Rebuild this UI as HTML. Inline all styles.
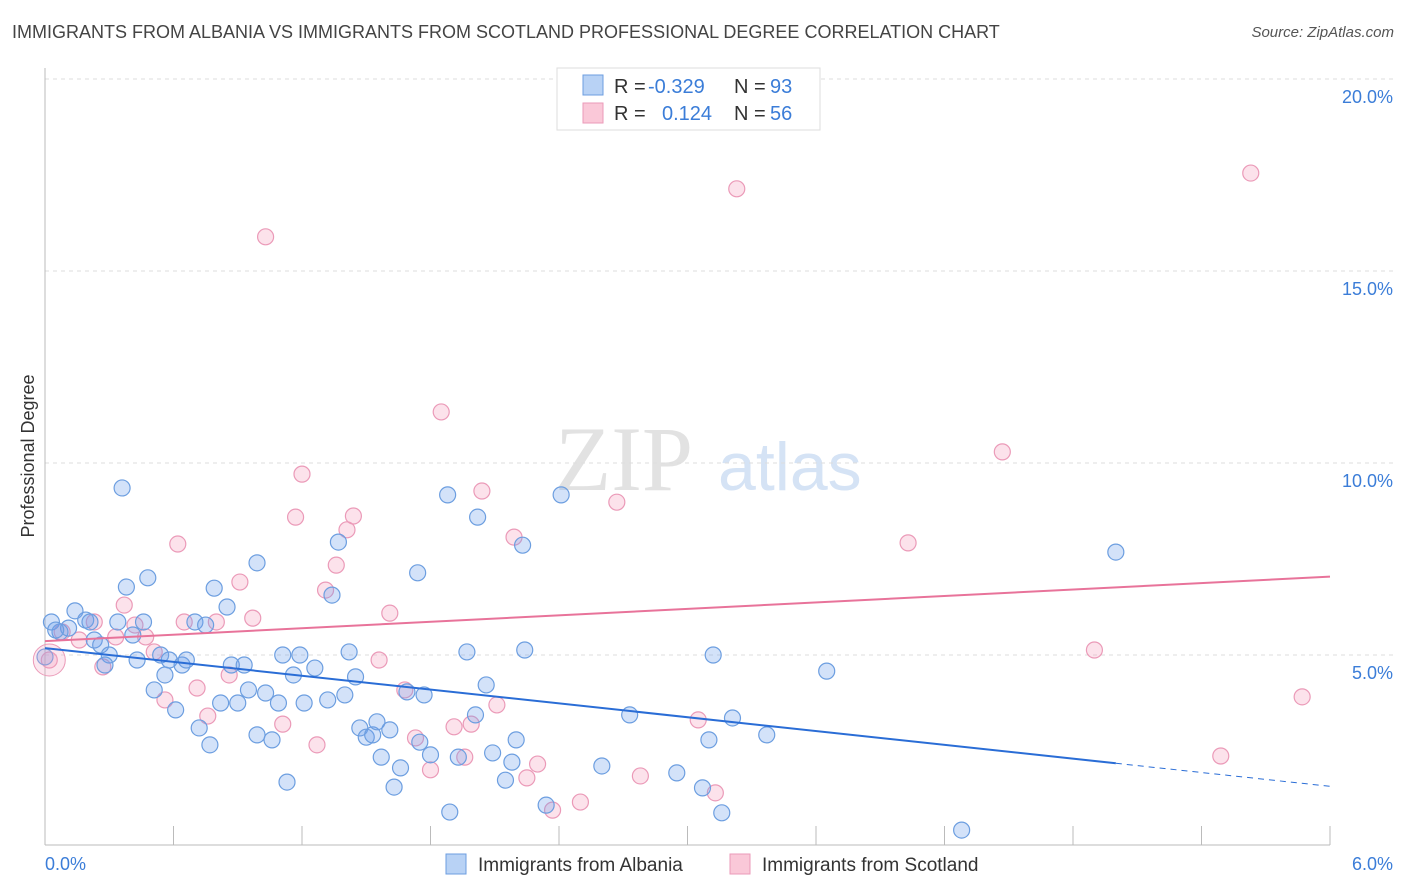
<!DOCTYPE html>
<html><head><meta charset="utf-8">
<style>
body{margin:0;background:#fff;font-family:"Liberation Sans",sans-serif;}
#wrap{position:relative;width:1406px;height:892px;overflow:hidden;}
.t{position:absolute;white-space:nowrap;}
</style></head>
<body>
<div id="wrap">
<div class="t" style="left:12px;top:22px;font-size:18px;color:#444;">IMMIGRANTS FROM ALBANIA VS IMMIGRANTS FROM SCOTLAND PROFESSIONAL DEGREE CORRELATION CHART</div>
<div class="t" style="right:12px;top:24px;font-size:15px;color:#555;font-style:italic;">Source: ZipAtlas.com</div>
<svg id="plot" width="1406" height="892" style="position:absolute;left:0;top:0"></svg>
</div>
<script>
const blueX=[0.03,0.07,0.14,0.11,0.19,0.21,0.23,0.26,0.30,0.28,0.36,0.38,0.34,0.41,0.43,0.46,0.48,0.51,0.54,0.56,0.58,0.61,0.64,0.66,0.70,0.72,0.75,0.77,0.79,0.82,0.85,0.87,0.90,0.93,0.95,0.99,0.99,1.03,1.06,1.09,1.11,1.13,1.16,1.19,1.21,1.26,1.32,1.34,1.37,1.40,1.42,1.45,1.47,1.50,1.53,1.55,1.57,1.61,1.63,1.66,1.69,1.74,1.75,1.77,1.80,1.88,1.89,1.93,1.97,2.01,2.02,2.06,2.09,2.15,2.18,2.20,2.23,2.24,2.34,2.41,2.60,2.73,2.95,3.07,3.10,3.12,3.16,3.21,3.37,3.65,4.28,5.00,0.00,0.05];
const blueY=[5.86,5.60,6.15,5.70,5.91,5.86,5.39,5.26,5.00,4.74,9.35,6.77,5.86,5.52,4.87,5.86,7.01,4.09,5.00,4.48,4.87,3.57,4.74,4.87,5.86,3.10,5.78,2.66,6.74,3.75,6.25,4.74,3.75,4.74,4.09,7.40,2.92,4.01,2.79,3.75,5.00,1.69,4.48,5.00,3.75,4.66,3.83,6.56,7.94,3.96,5.08,4.43,3.10,2.86,2.92,3.26,2.34,3.05,1.56,2.06,4.04,7.14,2.73,3.96,2.40,9.17,0.91,2.34,5.08,3.44,8.59,4.22,2.45,1.74,2.21,2.79,7.86,5.13,1.09,9.17,2.11,3.44,1.93,1.54,2.79,5.00,0.89,3.36,2.92,4.58,0.44,7.68,4.95,5.65];
const pinkX=[0.02,0.08,0.16,0.23,0.27,0.33,0.37,0.42,0.47,0.51,0.56,0.62,0.65,0.71,0.76,0.80,0.86,0.91,0.97,1.03,1.11,1.17,1.20,1.27,1.31,1.36,1.41,1.44,1.56,1.61,1.68,1.73,1.80,1.85,1.91,1.96,1.99,2.04,2.11,2.19,2.25,2.30,2.37,2.50,2.67,2.78,3.05,3.13,3.23,4.03,4.47,4.90,5.49,5.63,5.87];
const pinkY=[4.87,5.60,5.39,5.86,4.69,5.47,6.30,5.78,5.47,5.08,3.83,7.89,5.86,4.14,3.41,5.86,4.48,6.90,5.96,15.89,3.20,8.59,9.71,2.66,6.69,7.34,8.26,8.62,4.87,6.09,4.09,2.84,2.01,11.33,3.13,2.34,3.20,9.27,3.70,8.07,1.80,2.16,0.96,1.17,8.98,1.85,3.31,1.41,17.14,7.92,10.29,5.13,2.37,17.55,3.91];
const blueTrend=[5.18,-0.60]; // intercept, slope
const pinkTrend=[5.36,0.28];
const yTicks=[5,10,15,20];
const xTickCount=10;

const X0=45,X1=1330,Y0=847,PPY=38.4;
const sx=v=>X0+(X1-X0)*v/6;
const sy=v=>Y0-v*PPY;
const svg=document.getElementById('plot');
const NS='http://www.w3.org/2000/svg';
function mk(tag,attrs,parent){const e=document.createElementNS(NS,tag);for(const k in attrs)e.setAttribute(k,attrs[k]);(parent||svg).appendChild(e);return e;}

// watermark
let wm=mk('text',{x:555,y:490,'font-size':92,fill:'#e2e2e2','font-family':'Liberation Serif, serif'});
wm.textContent='ZIP';


let wm2=mk('text',{x:718,y:490,'font-size':68,fill:'#d5e3f5','font-family':'Liberation Sans, sans-serif'});
wm2.textContent='atlas';



// grid
let topg=mk('line',{x1:X0,x2:1393,y1:79,y2:79,stroke:'#ddd','stroke-dasharray':'4,4'});


yTicks.forEach(v=>{
  const g=mk('line',{x1:X0,x2:1393,y1:sy(v),y2:sy(v),stroke:'#ddd','stroke-dasharray':'4,4'});
  
  
  const t=mk('text',{x:1393,y:sy(v)+24,'text-anchor':'end','font-size':18,fill:'#3b7dd8'});
  t.textContent=v.toFixed(1)+'%';
  
  
});
let ax=mk('line',{x1:X0,x2:X0,y1:68,y2:845,stroke:'#bbb'});


let bx=mk('line',{x1:X0,x2:X1,y1:845,y2:845,stroke:'#bbb'});


for(let i=0;i<=xTickCount;i++){
  const xx=sx(6*i/xTickCount);
  const tk=mk('line',{x1:xx,x2:xx,y1:826,y2:845,stroke:'#bbb'});
  
  
}
let xl0=mk('text',{x:45,y:870,'font-size':18,fill:'#3b7dd8'});xl0.textContent='0.0%';


let xl1=mk('text',{x:1393,y:870,'text-anchor':'end','font-size':18,fill:'#3b7dd8'});xl1.textContent='6.0%';


let yt=mk('text',{x:34,y:456,'font-size':18,fill:'#333','text-anchor':'middle',transform:'rotate(-90 34 456)'});yt.textContent='Professional Degree';



// points
function dots(xs,ys,fill,stroke,name){
  xs.forEach((v,i)=>{
    const c=mk('circle',{cx:sx(v),cy:sy(ys[i]),r:8,fill:fill,stroke:stroke,'stroke-width':1.2});
    
    
  });
}
dots(pinkX,pinkY,'rgba(244,160,190,0.3)','#eb9ab8','point-scotland');
dots(blueX,blueY,'rgba(110,160,235,0.3)','#6c9ee0','point-albania');
let big=mk('circle',{cx:sx(0.02),cy:sy(4.87),r:16,fill:'rgba(244,160,190,0.25)',stroke:'#eb9ab8'});



// trends
const bl=mk('line',{x1:sx(0),y1:sy(blueTrend[0]),x2:sx(5),y2:sy(blueTrend[0]+5*blueTrend[1]),stroke:'#2a6dd6','stroke-width':2});


const bd=mk('line',{x1:sx(5),y1:sy(blueTrend[0]+5*blueTrend[1]),x2:sx(6),y2:sy(blueTrend[0]+6*blueTrend[1]),stroke:'#2a6dd6','stroke-width':1,'stroke-dasharray':'6,5'});


const pl=mk('line',{x1:sx(0),y1:sy(pinkTrend[0]),x2:sx(6),y2:sy(pinkTrend[0]+6*pinkTrend[1]),stroke:'#e8739a','stroke-width':2});



// legend box
const lg=mk('g',{});


mk('rect',{x:557,y:68,width:263,height:62,fill:'#fff',stroke:'#ddd'},lg);
mk('rect',{x:583,y:75,width:20,height:20,fill:'#b8d2f5',stroke:'#6c9ee0'},lg);
mk('rect',{x:583,y:103,width:20,height:20,fill:'#fac8d8',stroke:'#eb9ab8'},lg);
function lt(x,y,s,c,n){const t=mk('text',{x:x,y:y,'font-size':20,fill:c},lg);t.textContent=s;}
lt(614,93,'R =','#333','legend-r-label');lt(648,93,'-0.329','#3b7dd8','legend-r-albania');
lt(734,93,'N =','#333','legend-n-label');lt(770,93,'93','#3b7dd8','legend-n-albania');
lt(614,120,'R =','#333','legend-r-label');lt(662,120,'0.124','#3b7dd8','legend-r-scotland');
lt(734,120,'N =','#333','legend-n-label');lt(770,120,'56','#3b7dd8','legend-n-scotland');

// bottom legend
mk('rect',{x:446,y:854,width:20,height:20,fill:'#b8d2f5',stroke:'#6c9ee0'});
let b1=mk('text',{x:478,y:871,'font-size':19,fill:'#333'});b1.textContent='Immigrants from Albania';


mk('rect',{x:730,y:854,width:20,height:20,fill:'#fac8d8',stroke:'#eb9ab8'});
let b2=mk('text',{x:762,y:871,'font-size':19,fill:'#333'});b2.textContent='Immigrants from Scotland';


</script>
</body></html>
